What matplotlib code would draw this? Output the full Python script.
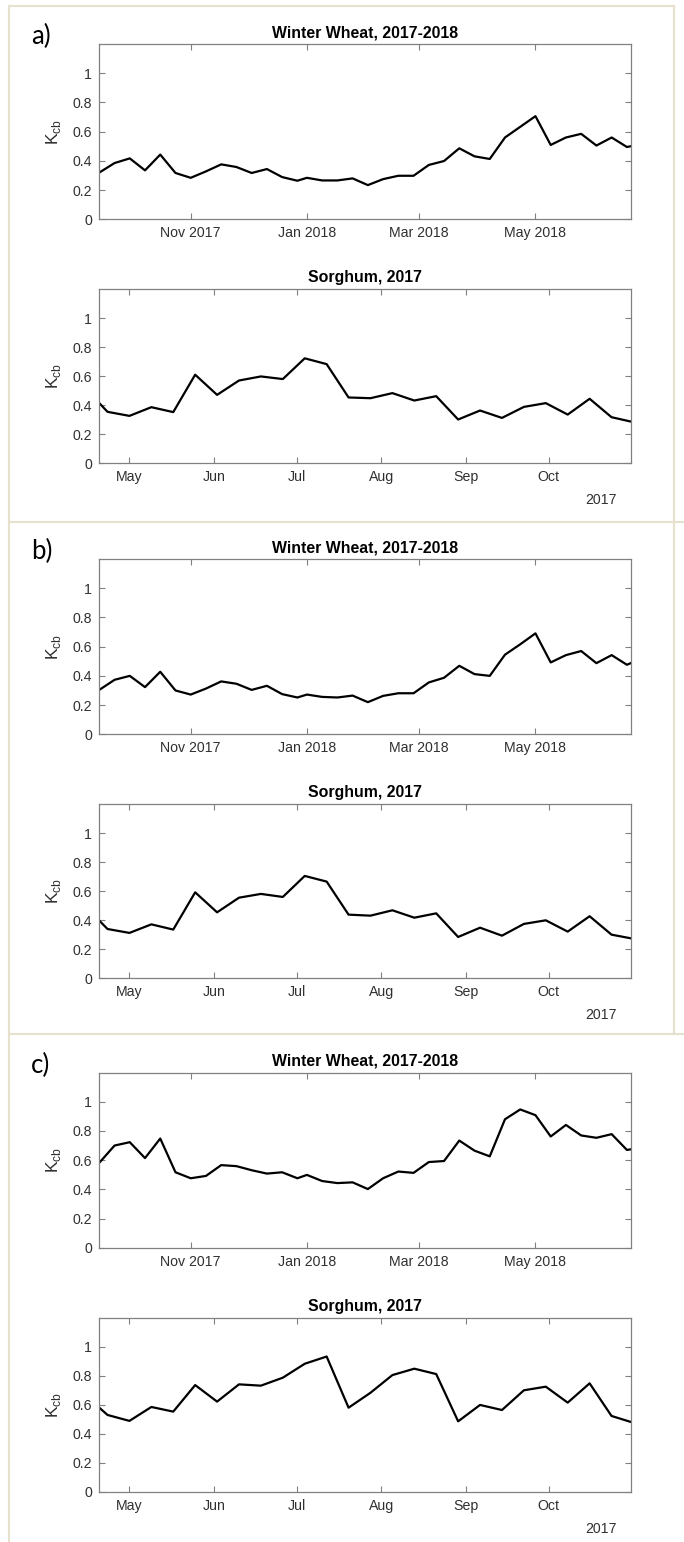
import matplotlib
matplotlib.use("Agg")
import matplotlib.pyplot as plt
import matplotlib.dates as mdates
from matplotlib.lines import Line2D
from matplotlib.ticker import FuncFormatter
import numpy as np

plt.rcParams['font.family'] = ['Liberation Sans', 'DejaVu Sans']
plt.rcParams['mathtext.fontset'] = 'custom'
plt.rcParams['mathtext.rm'] = 'Liberation Sans'

# 8-day composite dates, last entry is the end of the plotting window
wheat_dates = ["2017-09-14", "2017-09-22", "2017-09-30", "2017-10-08", "2017-10-16",
               "2017-10-24", "2017-11-01", "2017-11-09", "2017-11-17", "2017-11-25",
               "2017-12-03", "2017-12-11", "2017-12-19", "2017-12-27",
               "2018-01-01", "2018-01-09", "2018-01-17", "2018-01-25", "2018-02-02",
               "2018-02-10", "2018-02-18", "2018-02-26", "2018-03-06", "2018-03-14",
               "2018-03-22", "2018-03-30", "2018-04-07", "2018-04-15", "2018-04-23",
               "2018-05-01", "2018-05-09", "2018-05-17", "2018-05-25", "2018-06-02",
               "2018-06-10", "2018-06-18", "2018-06-20"]
# season window starts 20 Apr, ends 31 Oct
sorghum_dates = ["2017-04-20", "2017-04-23", "2017-05-01", "2017-05-09", "2017-05-17",
                 "2017-05-25", "2017-06-02", "2017-06-10", "2017-06-18", "2017-06-26",
                 "2017-07-04", "2017-07-12", "2017-07-20", "2017-07-28", "2017-08-05",
                 "2017-08-13", "2017-08-21", "2017-08-29", "2017-09-06", "2017-09-14",
                 "2017-09-22", "2017-09-30", "2017-10-08", "2017-10-16", "2017-10-24",
                 "2017-10-31"]

wheat_a = [0.32, 0.385, 0.417, 0.335, 0.443, 0.317, 0.284, 0.328, 0.376, 0.358,
           0.317, 0.344, 0.289, 0.264,
           0.284, 0.266, 0.266, 0.28, 0.234, 0.275, 0.298, 0.298, 0.372, 0.399,
           0.486, 0.431, 0.413, 0.56, 0.633, 0.706, 0.509, 0.56, 0.585, 0.505,
           0.56, 0.495, 0.50]
wheat_b = [0.304, 0.373, 0.400, 0.323, 0.428, 0.300, 0.272, 0.313, 0.362, 0.346,
           0.304, 0.332, 0.275, 0.252,
           0.272, 0.256, 0.252, 0.265, 0.220, 0.263, 0.281, 0.281, 0.355, 0.387,
           0.469, 0.412, 0.400, 0.545, 0.616, 0.691, 0.492, 0.542, 0.570, 0.487,
           0.542, 0.476, 0.487]
wheat_c = [0.582, 0.700, 0.723, 0.614, 0.748, 0.517, 0.476, 0.492, 0.566, 0.559,
           0.531, 0.508, 0.517, 0.476,
           0.499, 0.457, 0.443, 0.448, 0.402, 0.476, 0.522, 0.513, 0.587, 0.594,
           0.734, 0.665, 0.626, 0.880, 0.947, 0.908, 0.762, 0.841, 0.769, 0.753,
           0.778, 0.670, 0.674]

sorghum_a = [0.415, 0.355, 0.327, 0.387, 0.353, 0.611, 0.472, 0.571, 0.599, 0.581,
             0.724, 0.684, 0.454, 0.449, 0.484, 0.433, 0.463, 0.302, 0.364, 0.313,
             0.389, 0.415, 0.336, 0.445, 0.318, 0.288]
sorghum_b = [0.398, 0.340, 0.313, 0.372, 0.336, 0.593, 0.455, 0.556, 0.582, 0.561,
             0.706, 0.667, 0.439, 0.432, 0.469, 0.418, 0.448, 0.285, 0.349, 0.294,
             0.375, 0.400, 0.322, 0.428, 0.301, 0.276]
sorghum_c = [0.580, 0.530, 0.489, 0.585, 0.553, 0.736, 0.622, 0.741, 0.732, 0.787,
             0.883, 0.933, 0.580, 0.683, 0.805, 0.849, 0.812, 0.486, 0.599, 0.564,
             0.700, 0.725, 0.615, 0.748, 0.523, 0.482]

panel_labels = ["a)", "b)", "c)"]
wheat_series = [wheat_a, wheat_b, wheat_c]
sorghum_series = [sorghum_a, sorghum_b, sorghum_c]
yticks = [0, 0.2, 0.4, 0.6, 0.8, 1]

W, H = 684, 1542
fig = plt.figure(figsize=(W / 100, H / 100), dpi=100)

wd = np.array(wheat_dates, dtype="datetime64[D]")
sd = np.array(sorghum_dates, dtype="datetime64[D]")

def add_ax(x0, y0, x1, y1):
    # pixel box (from top-left) -> figure axes
    return fig.add_axes([x0 / W, 1 - y1 / H, (x1 - x0) / W, (y1 - y0) / H])

def style(ax):
    ax.set_ylim(0, 1.2)
    ax.set_yticks(yticks)
    ax.yaxis.set_major_formatter(FuncFormatter(lambda v, p: f"{v:g}"))
    ax.tick_params(direction="in", length=4, width=0.8, top=True, right=True,
                   color="#808080", labelcolor="#303030", labelsize=10.2, pad=5)
    for s in ax.spines.values():
        s.set_color("#808080")
        s.set_linewidth(0.9)
    ax.set_ylabel(r"K$_{\rm cb}$", fontsize=12.5, color="#303030", labelpad=7)

border = "#e6e1cc"
offsets = [0, 515, 1028.5]
for k, off in enumerate(offsets):
    # winter wheat
    ax = add_ax(99.3, 44 + off, 630.7, 219.3 + off)
    ax.plot(wd, wheat_series[k], color="k", lw=1.6)
    ax.set_xlim(wd[0], wd[-1])
    ax.xaxis.set_major_locator(mdates.MonthLocator(bymonth=[1, 3, 5, 11]))
    ax.xaxis.set_major_formatter(mdates.DateFormatter("%b %Y"))
    style(ax)
    ax.set_title("Winter Wheat, 2017-2018", fontsize=11.4, fontweight="bold", pad=5)

    # sorghum
    ax = add_ax(99.3, 289.3 + off, 630.7, 463.3 + off)
    ax.plot(sd, sorghum_series[k], color="k", lw=1.6)
    ax.set_xlim(sd[0], sd[-1])
    ax.xaxis.set_major_locator(mdates.MonthLocator())
    ax.xaxis.set_major_formatter(mdates.DateFormatter("%b"))
    style(ax)
    ax.set_title("Sorghum, 2017", fontsize=11.4, fontweight="bold", pad=5)
    ax.text(0.974, -0.234, "2017", transform=ax.transAxes, ha="right", va="baseline",
            fontsize=10.2, color="#303030")

    fig.text(31 / W, 1 - (24 + off) / H, panel_labels[k], fontsize=18.5,
             family=["Lato", "DejaVu Sans"], va="top")

# frame lines around the panels
def hline(y, x0, x1):
    fig.add_artist(Line2D([x0 / W, x1 / W], [1 - y / H, 1 - y / H],
                          transform=fig.transFigure, color=border, lw=1.5))

def vline(x, y0, y1):
    fig.add_artist(Line2D([x / W, x / W], [1 - y0 / H, 1 - y1 / H],
                          transform=fig.transFigure, color=border, lw=1.5))

hline(5.7, 9, 674)
hline(521.5, 9, W)
hline(1034, 9, W)
vline(9, 5.7, H)
vline(674, 5.7, 1034)

fig.savefig("out.png", dpi=100)
